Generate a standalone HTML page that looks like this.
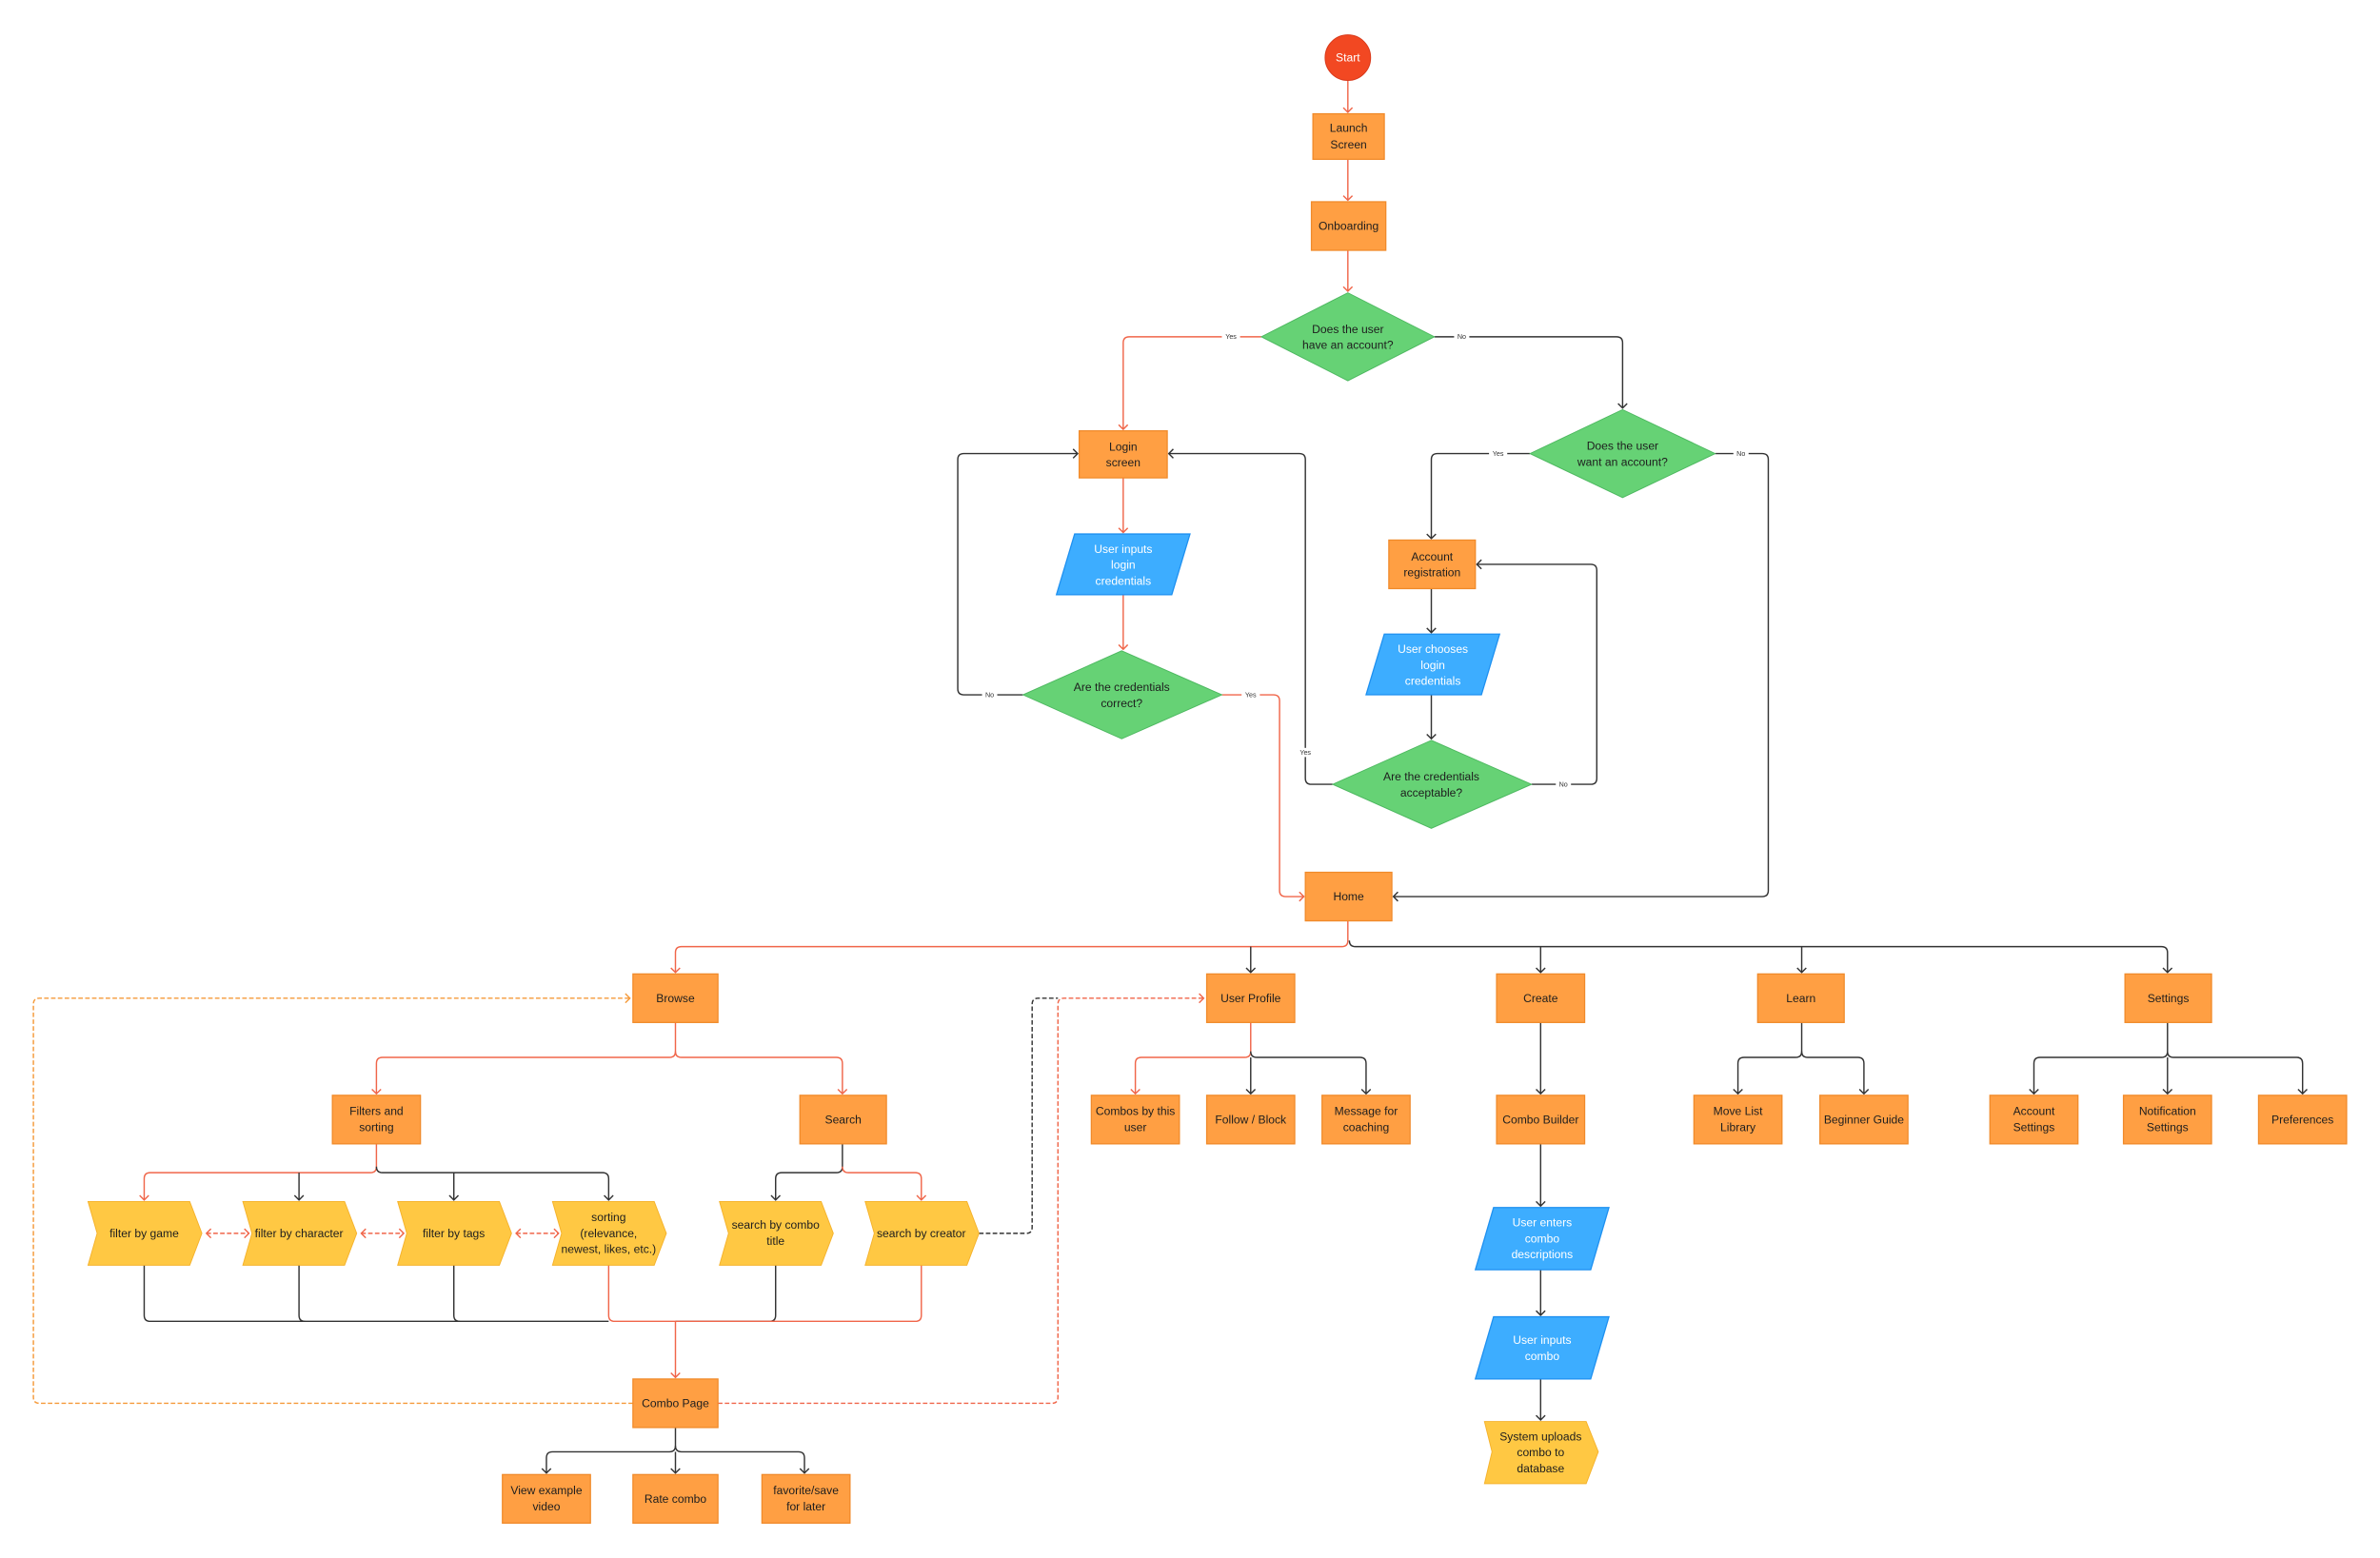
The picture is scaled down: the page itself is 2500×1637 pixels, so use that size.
<!DOCTYPE html>
<html><head><meta charset="utf-8"><style>
html,body{margin:0;padding:0;background:#fff;width:2500px;height:1637px;overflow:hidden}
svg{display:block}
text{font-family:"Liberation Sans",sans-serif;font-size:7.6px;fill:#1e1e1e;text-anchor:middle}
.w{fill:#fff}
.lb{font-size:4.5px;fill:#333}
.b{fill:#FF9F43;stroke:#F08A2A;stroke-width:0.8}
.g{fill:#66D275;stroke:#4DB860;stroke-width:0.6}
.bl{fill:#3DADFF;stroke:#1E90F0;stroke-width:0.8}
.y{fill:#FFC843;stroke:#F5B22C;stroke-width:0.6}
.r{fill:none;stroke:#F0664A;stroke-width:0.9}
.k{fill:none;stroke:#333;stroke-width:0.9}
.rd{fill:none;stroke:#F0664A;stroke-width:0.9;stroke-dasharray:3 1.5}
.od{fill:none;stroke:#F59A3A;stroke-width:0.9;stroke-dasharray:3 1.5}
.kd{fill:none;stroke:#333;stroke-width:0.9;stroke-dasharray:3 1.5}
</style></head><body>
<svg width="2500" height="1637" viewBox="0 0 1568 1027" preserveAspectRatio="none" xmlns="http://www.w3.org/2000/svg">
<defs>
<marker id="ar" markerWidth="8" markerHeight="8" refX="4" refY="4" orient="auto" markerUnits="userSpaceOnUse"><path d="M1,1 L4,4 L1,7" fill="none" stroke="#F0664A" stroke-width="0.9"/></marker>
<marker id="ak" markerWidth="8" markerHeight="8" refX="4" refY="4" orient="auto" markerUnits="userSpaceOnUse"><path d="M1,1 L4,4 L1,7" fill="none" stroke="#333" stroke-width="0.9"/></marker>
<marker id="ao" markerWidth="8" markerHeight="8" refX="4" refY="4" orient="auto" markerUnits="userSpaceOnUse"><path d="M1,1 L4,4 L1,7" fill="none" stroke="#F59A3A" stroke-width="0.9"/></marker>
<marker id="ars" markerWidth="8" markerHeight="8" refX="4" refY="4" orient="auto-start-reverse" markerUnits="userSpaceOnUse"><path d="M1,1 L4,4 L1,7" fill="none" stroke="#F0664A" stroke-width="0.9"/></marker>
</defs>

<!-- connectors top -->
<path class="r" d="M888,53 V74" marker-end="url(#ar)"/>
<path class="r" d="M888,105 V132" marker-end="url(#ar)"/>
<path class="r" d="M888,165 V192" marker-end="url(#ar)"/>
<path class="r" d="M831,222 H744 Q740,222 740,226 V283" marker-end="url(#ar)"/>
<path class="k" d="M945,222 H1065 Q1069,222 1069,226 V269" marker-end="url(#ak)"/>
<path class="k" d="M1008,299 H947 Q943,299 943,303 V355" marker-end="url(#ak)"/>
<path class="k" d="M1130,299 H1161 Q1165,299 1165,303 V587 Q1165,591 1161,591 H918" marker-end="url(#ak)"/>
<path class="r" d="M740,315 V351" marker-end="url(#ar)"/>
<path class="r" d="M740,392 V428" marker-end="url(#ar)"/>
<path class="k" d="M674,458 H635 Q631,458 631,454 V303 Q631,299 635,299 H710" marker-end="url(#ak)"/>
<path class="r" d="M805,458 H839 Q843,458 843,462 V587 Q843,591 847,591 H859" marker-end="url(#ar)"/>
<path class="k" d="M943,388 V417" marker-end="url(#ak)"/>
<path class="k" d="M943,458 V487" marker-end="url(#ak)"/>
<path class="k" d="M878,517 H864 Q860,517 860,513 V303 Q860,299 856,299 H770" marker-end="url(#ak)"/>
<path class="k" d="M1009,517 H1048 Q1052,517 1052,513 V376 Q1052,372 1048,372 H973" marker-end="url(#ak)"/>
<!-- labels -->
<rect x="805" y="219" width="12" height="6" fill="#fff"/><text class="lb" x="811" y="223.5">Yes</text>
<rect x="958" y="219" width="10" height="6" fill="#fff"/><text class="lb" x="963" y="223.5">No</text>
<rect x="981" y="296" width="12" height="6" fill="#fff"/><text class="lb" x="987" y="300.5">Yes</text>
<rect x="1142" y="296" width="10" height="6" fill="#fff"/><text class="lb" x="1147" y="300.5">No</text>
<rect x="647" y="455" width="10" height="6" fill="#fff"/><text class="lb" x="652" y="459.5">No</text>
<rect x="818" y="455" width="12" height="6" fill="#fff"/><text class="lb" x="824" y="459.5">Yes</text>
<rect x="854" y="493" width="12" height="6" fill="#fff"/><text class="lb" x="860" y="497.5">Yes</text>
<rect x="1025" y="514" width="10" height="6" fill="#fff"/><text class="lb" x="1030" y="518.5">No</text>

<!-- Home branches -->
<path class="r" d="M888,607 V620 Q888,624 884,624 H449 Q445,624 445,628 V641" marker-end="url(#ar)"/>
<path class="k" d="M889,620 Q889,624 893,624 H1424 Q1428,624 1428,628 V641" marker-end="url(#ak)"/>
<path class="k" d="M824,624 V641" marker-end="url(#ak)"/>
<path class="k" d="M1015,624 V641" marker-end="url(#ak)"/>
<path class="k" d="M1187,624 V641" marker-end="url(#ak)"/>

<!-- Browse -->
<path class="r" d="M445,674 V693 Q445,697 441,697 H252 Q248,697 248,701 V721" marker-end="url(#ar)"/>
<path class="r" d="M445,693 Q445,697 449,697 H551 Q555,697 555,701 V721" marker-end="url(#ar)"/>
<path class="r" d="M248,754 V769 Q248,773 244,773 H99 Q95,773 95,777 V791" marker-end="url(#ar)"/>
<path class="k" d="M248,769 Q248,773 252,773 H397 Q401,773 401,777 V791" marker-end="url(#ak)"/>
<path class="k" d="M197,773 V791" marker-end="url(#ak)"/>
<path class="k" d="M299,773 V791" marker-end="url(#ak)"/>
<path class="k" d="M555,754 V769 Q555,773 551,773 H515 Q511,773 511,777 V791" marker-end="url(#ak)"/>
<path class="r" d="M555,769 Q555,773 559,773 H603 Q607,773 607,777 V791" marker-end="url(#ar)"/>
<path class="rd" d="M136,813 H164" marker-start="url(#ars)" marker-end="url(#ars)"/>
<path class="rd" d="M238,813 H266" marker-start="url(#ars)" marker-end="url(#ars)"/>
<path class="rd" d="M340,813 H368" marker-start="url(#ars)" marker-end="url(#ars)"/>
<path class="k" d="M95,834 V867 Q95,871 99,871 H401"/>
<path class="k" d="M197,834 V867 Q197,871 201,871"/>
<path class="k" d="M299,834 V867 Q299,871 303,871"/>
<path class="k" d="M511,834 V867 Q511,871 507,871 H445"/>
<path class="r" d="M401,834 V867 Q401,871 405,871 H603 Q607,871 607,867 V834"/>
<path class="r" d="M445,871 V908" marker-end="url(#ar)"/>
<path class="od" d="M417,925 H26 Q22,925 22,921 V662 Q22,658 26,658 H415" marker-end="url(#ao)"/>
<path class="rd" d="M473,925 H693 Q697,925 697,921 V662 Q697,658 701,658 H793" marker-end="url(#ar)"/>
<path class="kd" d="M645,813 H676 Q680,813 680,809 V662 Q680,658 684,658 H697"/>
<path class="k" d="M445,941 V953 Q445,957 441,957 H364 Q360,957 360,961 V971" marker-end="url(#ak)"/>
<path class="k" d="M445,953 Q445,957 449,957 H526 Q530,957 530,961 V971" marker-end="url(#ak)"/>
<path class="k" d="M445,957 V971" marker-end="url(#ak)"/>

<!-- User profile -->
<path class="r" d="M824,674 V693 Q824,697 820,697 H752 Q748,697 748,701 V721" marker-end="url(#ar)"/>
<path class="k" d="M824,693 Q824,697 828,697 H896 Q900,697 900,701 V721" marker-end="url(#ak)"/>
<path class="k" d="M824,697 V721" marker-end="url(#ak)"/>
<!-- Create -->
<path class="k" d="M1015,674 V721" marker-end="url(#ak)"/>
<path class="k" d="M1015,754 V795" marker-end="url(#ak)"/>
<path class="k" d="M1015,837 V867" marker-end="url(#ak)"/>
<path class="k" d="M1015,909 V936" marker-end="url(#ak)"/>
<!-- Learn -->
<path class="k" d="M1187,674 V693 Q1187,697 1183,697 H1149 Q1145,697 1145,701 V721" marker-end="url(#ak)"/>
<path class="k" d="M1187,693 Q1187,697 1191,697 H1224 Q1228,697 1228,701 V721" marker-end="url(#ak)"/>
<!-- Settings -->
<path class="k" d="M1428,674 V693 Q1428,697 1424,697 H1344 Q1340,697 1340,701 V721" marker-end="url(#ak)"/>
<path class="k" d="M1428,693 Q1428,697 1432,697 H1513 Q1517,697 1517,701 V721" marker-end="url(#ak)"/>
<path class="k" d="M1428,697 V721" marker-end="url(#ak)"/>

<!-- Nodes -->
<circle cx="888" cy="38" r="15" fill="#F24822" stroke="#D8391A" stroke-width="0.6"/>
<text class="w" x="888" y="40.5">Start</text>

<rect class="b" x="865" y="75" width="47" height="30"/><text x="888.5" y="87">Launch</text><text x="888.5" y="98">Screen</text>
<rect class="b" x="864" y="133" width="49" height="32"/><text x="888.5" y="151.5">Onboarding</text>
<polygon class="g" points="888,193 945,222 888,251 831,222"/><text x="888" y="219.5">Does the user</text><text x="888" y="230">have an account?</text>
<polygon class="g" points="1069,270 1130,299 1069,328 1008,299"/><text x="1069" y="296.5">Does the user</text><text x="1069" y="307">want an account?</text>
<rect class="b" x="711" y="284" width="58" height="31"/><text x="740" y="297">Login</text><text x="740" y="307.5">screen</text>
<polygon class="bl" points="708,352 784,352 772,392 696,392"/><text class="w" x="740" y="364.5">User inputs</text><text class="w" x="740" y="375">login</text><text class="w" x="740" y="385.5">credentials</text>
<polygon class="g" points="739,429 805,458 739,487 674,458"/><text x="739" y="455.5">Are the credentials</text><text x="739" y="466">correct?</text>
<rect class="b" x="915" y="356" width="57" height="32"/><text x="943.5" y="369.5">Account</text><text x="943.5" y="380">registration</text>
<polygon class="bl" points="912,418 988,418 976,458 900,458"/><text class="w" x="944" y="430.5">User chooses</text><text class="w" x="944" y="441">login</text><text class="w" x="944" y="451.5">credentials</text>
<polygon class="g" points="943,488 1009,517 943,546 878,517"/><text x="943" y="514.5">Are the credentials</text><text x="943" y="525">acceptable?</text>
<rect class="b" x="860" y="575" width="57" height="32"/><text x="888.5" y="593.5">Home</text>

<rect class="b" x="417" y="642" width="56" height="32"/><text x="445" y="660.5">Browse</text>
<rect class="b" x="795" y="642" width="58" height="32"/><text x="824" y="660.5">User Profile</text>
<rect class="b" x="986" y="642" width="58" height="32"/><text x="1015" y="660.5">Create</text>
<rect class="b" x="1158" y="642" width="57" height="32"/><text x="1186.5" y="660.5">Learn</text>
<rect class="b" x="1400" y="642" width="57" height="32"/><text x="1428.5" y="660.5">Settings</text>

<rect class="b" x="219" y="722" width="58" height="32"/><text x="248" y="735">Filters and</text><text x="248" y="745.5">sorting</text>
<rect class="b" x="527" y="722" width="57" height="32"/><text x="555.5" y="740.5">Search</text>
<rect class="b" x="719" y="722" width="58" height="32"/><text x="748" y="735">Combos by this</text><text x="748" y="745.5">user</text>
<rect class="b" x="795" y="722" width="58" height="32"/><text x="824" y="740.5">Follow / Block</text>
<rect class="b" x="871" y="722" width="58" height="32"/><text x="900" y="735">Message for</text><text x="900" y="745.5">coaching</text>
<rect class="b" x="986" y="722" width="58" height="32"/><text x="1015" y="740.5">Combo Builder</text>
<rect class="b" x="1116" y="722" width="58" height="32"/><text x="1145" y="735">Move List</text><text x="1145" y="745.5">Library</text>
<rect class="b" x="1199" y="722" width="58" height="32"/><text x="1228" y="740.5">Beginner Guide</text>
<rect class="b" x="1311" y="722" width="58" height="32"/><text x="1340" y="735">Account</text><text x="1340" y="745.5">Settings</text>
<rect class="b" x="1399" y="722" width="58" height="32"/><text x="1428" y="735">Notification</text><text x="1428" y="745.5">Settings</text>
<rect class="b" x="1488" y="722" width="58" height="32"/><text x="1517" y="740.5">Preferences</text>

<polygon class="y" points="58,792 125,792 133,813 125,834 58,834 64,813"/><text x="95" y="815.5">filter by game</text>
<polygon class="y" points="160,792 227,792 235,813 227,834 160,834 166,813"/><text x="197" y="815.5">filter by character</text>
<polygon class="y" points="262,792 329,792 337,813 329,834 262,834 268,813"/><text x="299" y="815.5">filter by tags</text>
<polygon class="y" points="364,792 431,792 439,813 431,834 364,834 370,813"/><text x="401" y="805">sorting</text><text x="401" y="815.5">(relevance,</text><text x="401" y="826">newest, likes, etc.)</text>
<polygon class="y" points="474,792 541,792 549,813 541,834 474,834 480,813"/><text x="511" y="810">search by combo</text><text x="511" y="820.5">title</text>
<polygon class="y" points="570,792 637,792 645,813 637,834 570,834 576,813"/><text x="607" y="815.5">search by creator</text>

<rect class="b" x="417" y="909" width="56" height="32"/><text x="445" y="927.5">Combo Page</text>
<rect class="b" x="331" y="972" width="58" height="32"/><text x="360" y="985">View example</text><text x="360" y="995.5">video</text>
<rect class="b" x="417" y="972" width="56" height="32"/><text x="445" y="990.5">Rate combo</text>
<rect class="b" x="502" y="972" width="58" height="32"/><text x="531" y="985">favorite/save</text><text x="531" y="995.5">for later</text>

<polygon class="bl" points="984,796 1060,796 1048,837 972,837"/><text class="w" x="1016" y="808.5">User enters</text><text class="w" x="1016" y="819">combo</text><text class="w" x="1016" y="829.5">descriptions</text>
<polygon class="bl" points="984,868 1060,868 1048,909 972,909"/><text class="w" x="1016" y="886">User inputs</text><text class="w" x="1016" y="896.5">combo</text>
<polygon class="y" points="978,937 1045,937 1053,957 1045,978 978,978 983,957"/><text x="1015" y="949.5">System uploads</text><text x="1015" y="960">combo to</text><text x="1015" y="970.5">database</text>
</svg>
</body></html>
